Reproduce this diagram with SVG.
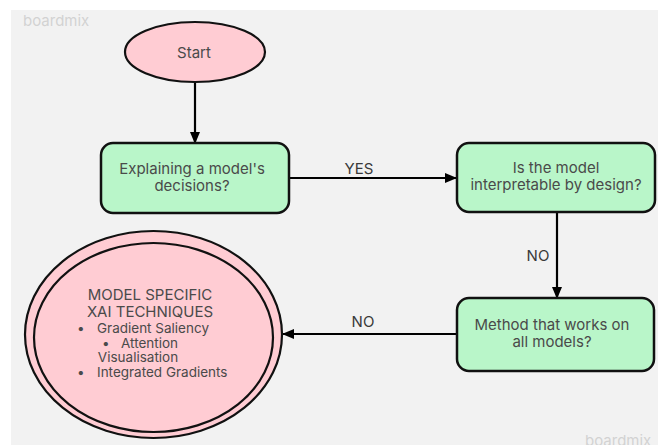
<svg xmlns="http://www.w3.org/2000/svg" width="658" height="445" viewBox="0 0 658 445">
<defs>
<marker id="ah" markerWidth="12" markerHeight="10" refX="11" refY="5" orient="auto" markerUnits="userSpaceOnUse">
<path d="M0,0 L12,5 L0,10 Z" fill="#000"/>
</marker>
<style>
.bg{fill:#f2f2f2}
.box{fill:#b9f6c9;stroke:#111;stroke-width:2.5}
.pink{fill:#ffccd3;stroke:#111;stroke-width:2.2}
.t{font-family:Inter,"Liberation Sans",sans-serif;font-size:15px;fill:#4a4a4a;text-anchor:middle}
.s{font-family:Inter,"Liberation Sans",sans-serif;font-size:13.5px;fill:#4a4a4a}
.lbl{font-family:Inter,"Liberation Sans",sans-serif;font-size:15px;fill:#3a3a3a;text-anchor:middle}
.wm{font-family:Inter,"Liberation Sans",sans-serif;font-size:15px;fill:#d2d2d2}
.edge{stroke:#000;stroke-width:2.2;fill:none;marker-end:url(#ah)}
</style>
</defs>
<rect x="0" y="0" width="658" height="445" fill="#ffffff"/>
<rect class="bg" x="11" y="10" width="647" height="435"/>
<text class="wm" x="23" y="26">boardmix</text>
<text class="wm" x="585" y="446">boardmix</text>

<g id="connectors">
<line class="edge" x1="195" y1="82" x2="195" y2="143"/>
<line class="edge" x1="289" y1="178" x2="456" y2="178"/>
<text class="lbl" x="359" y="174">YES</text>
<line class="edge" x1="557" y1="212" x2="557" y2="298"/>
<text class="lbl" x="538" y="261">NO</text>
<line class="edge" x1="457" y1="334" x2="283" y2="334"/>
<text class="lbl" x="363" y="327">NO</text>
</g>

<g id="start">
<ellipse class="pink" cx="195" cy="52" rx="70" ry="30"/>
<text class="t" x="194" y="58">Start</text>
</g>

<g id="explain">
<rect class="box" x="101" y="143" width="188" height="70" rx="12"/>
<text class="t" x="192" y="174">Explaining a model's</text>
<text class="t" x="192" y="191">decisions?</text>
</g>

<g id="interpretable">
<rect class="box" x="457" y="143" width="198" height="69" rx="12"/>
<text class="t" x="556" y="173">Is the model</text>
<text class="t" x="556" y="190">interpretable by design?</text>
</g>

<g id="method">
<rect class="box" x="457" y="298" width="197" height="73" rx="12"/>
<text class="t" x="552" y="330">Method that works on</text>
<text class="t" x="552" y="347">all models?</text>
</g>

<g id="specific">
<ellipse class="pink" cx="153.5" cy="334.5" rx="128.5" ry="103.5"/>
<ellipse class="pink" cx="153.5" cy="337.5" rx="119.5" ry="94.5"/>
<text class="t" x="150" y="300">MODEL SPECIFIC</text>
<text class="t" x="150" y="317">XAI TECHNIQUES</text>
<text class="s" x="77" y="333">•</text>
<text class="s" x="97" y="333">Gradient Saliency</text>
<text class="s" x="102" y="348">•</text>
<text class="s" x="121" y="348">Attention</text>
<text class="s" x="138" y="362" text-anchor="middle">Visualisation</text>
<text class="s" x="77" y="377">•</text>
<text class="s" x="97" y="377">Integrated Gradients</text>
</g>
</svg>
